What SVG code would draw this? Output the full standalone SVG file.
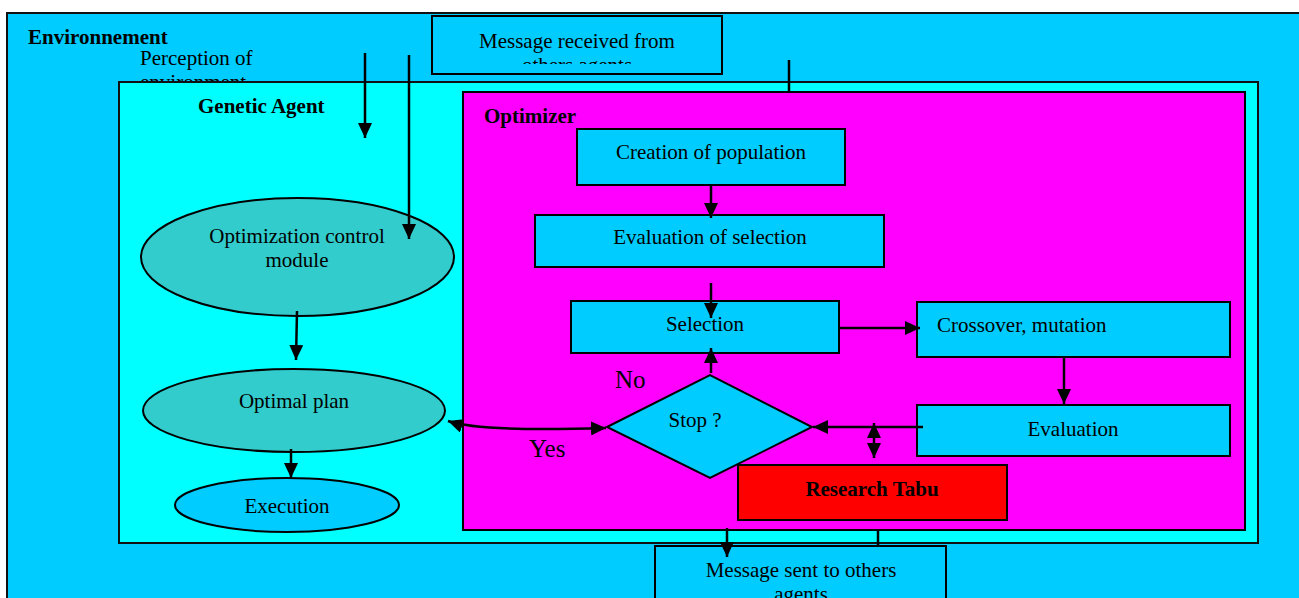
<svg xmlns="http://www.w3.org/2000/svg" width="1299" height="598" viewBox="0 0 1299 598">
<style>
text{font-family:"Liberation Serif","Times New Roman",serif;font-size:21px;fill:#000}
.b{font-weight:bold}
.c{text-anchor:middle}
.big{font-size:25px}
.box{fill:#00CCFF;stroke:#000;stroke-width:2}
.ell{fill:#33CCCC;stroke:#000;stroke-width:2}
.cn{stroke:#000;stroke-width:2.5;fill:none}
</style>
<defs>
<marker id="ah" viewBox="0 0 15 14" refX="15" refY="7" markerWidth="15" markerHeight="14" markerUnits="userSpaceOnUse" orient="auto-start-reverse"><path d="M0,0L15,7L0,14z" fill="#000"/></marker>
<clipPath id="clipTop"><rect x="432" y="16" width="290" height="48"/></clipPath>
</defs>
<g id="environment">
<rect x="7" y="13" width="1310" height="600" fill="#00CCFF" stroke="#111" stroke-width="2"/>
<text x="28" y="44" class="b">Environnement</text>
<text x="140" y="65">Perception of</text>
<text x="140" y="89">environment</text>
</g>
<g id="msg-received">
<rect x="432" y="16" width="290" height="58" class="box"/>
<g clip-path="url(#clipTop)">
<text x="577" y="48" class="c">Message received from</text>
<text x="577" y="72" class="c">others agents</text>
</g>
</g>
<g id="genetic-agent">
<rect x="119" y="82" width="1139" height="461" fill="#00FFFF" stroke="#111" stroke-width="2"/>
<text x="198" y="113" class="b">Genetic Agent</text>
</g>
<g id="optimizer">
<rect x="463" y="92" width="782" height="438" fill="#FF00FF" stroke="#000" stroke-width="2"/>
<text x="484" y="123" class="b">Optimizer</text>
</g>
<g id="creation">
<rect x="577" y="129" width="268" height="56" class="box"/>
<text x="711" y="159" class="c">Creation of population</text>
</g>
<g id="eval-selection">
<rect x="535" y="215" width="349" height="52" class="box"/>
<text x="710" y="244" class="c">Evaluation of selection</text>
</g>
<g id="selection">
<rect x="571" y="301" width="268" height="52" class="box"/>
<text x="705" y="331" class="c">Selection</text>
</g>
<g id="crossover">
<rect x="917" y="302" width="313" height="55" class="box"/>
<text x="937" y="332">Crossover, mutation</text>
</g>
<g id="evaluation">
<rect x="917" y="405" width="313" height="51" class="box"/>
<text x="1073" y="436" class="c">Evaluation</text>
</g>
<g id="stop">
<polygon points="607,427 710,375 812,427 710,478" class="box"/>
<text x="695" y="427" class="c">Stop ?</text>
</g>
<g id="research-tabu">
<rect x="738" y="465" width="269" height="55" fill="#FF0000" stroke="#000" stroke-width="2"/>
<text x="872" y="496" class="c b">Research Tabu</text>
</g>
<g id="control-module">
<ellipse cx="297.5" cy="257" rx="156.5" ry="59" class="ell"/>
<text x="297" y="243" class="c">Optimization control</text>
<text x="297" y="267" class="c">module</text>
</g>
<g id="optimal-plan">
<ellipse cx="294" cy="410.5" rx="151" ry="41.5" class="ell"/>
<text x="294" y="408" class="c">Optimal plan</text>
</g>
<g id="execution">
<ellipse cx="287" cy="505" rx="112" ry="27" class="box"/>
<text x="287" y="513" class="c">Execution</text>
</g>
<g id="msg-sent">
<rect x="655" y="546" width="291" height="70" class="box"/>
<text x="801" y="577" class="c">Message sent to others</text>
<text x="801" y="601" class="c">agents</text>
</g>
<g id="labels">
<text x="615" y="388" class="big">No</text>
<text x="529" y="457" class="big">Yes</text>
</g>
<g id="connectors">
<line x1="365" y1="53" x2="365" y2="138" class="cn" marker-end="url(#ah)"/>
<line x1="409" y1="55" x2="409" y2="239" class="cn" marker-end="url(#ah)"/>
<line x1="789" y1="60" x2="789" y2="92" class="cn"/>
<line x1="711" y1="185" x2="711" y2="218" class="cn" marker-end="url(#ah)"/>
<line x1="711" y1="283" x2="711" y2="318" class="cn" marker-end="url(#ah)"/>
<line x1="711" y1="373" x2="711" y2="348" class="cn" marker-end="url(#ah)"/>
<line x1="839" y1="328" x2="920" y2="328" class="cn" marker-end="url(#ah)"/>
<line x1="1064" y1="357" x2="1064" y2="404" class="cn" marker-end="url(#ah)"/>
<line x1="923" y1="427" x2="813" y2="427" class="cn" marker-end="url(#ah)"/>
<line x1="874" y1="423" x2="874" y2="458" class="cn" marker-start="url(#ah)" marker-end="url(#ah)"/>
<path d="M448,421 Q480,432 606,428" class="cn" marker-start="url(#ah)" marker-end="url(#ah)"/>
<line x1="297" y1="311" x2="296" y2="360" class="cn" marker-end="url(#ah)"/>
<line x1="291" y1="449" x2="291" y2="478" class="cn" marker-end="url(#ah)"/>
<line x1="727" y1="528" x2="727" y2="557" class="cn" marker-end="url(#ah)"/>
<line x1="878" y1="530" x2="878" y2="546" class="cn"/>
</g>
</svg>
